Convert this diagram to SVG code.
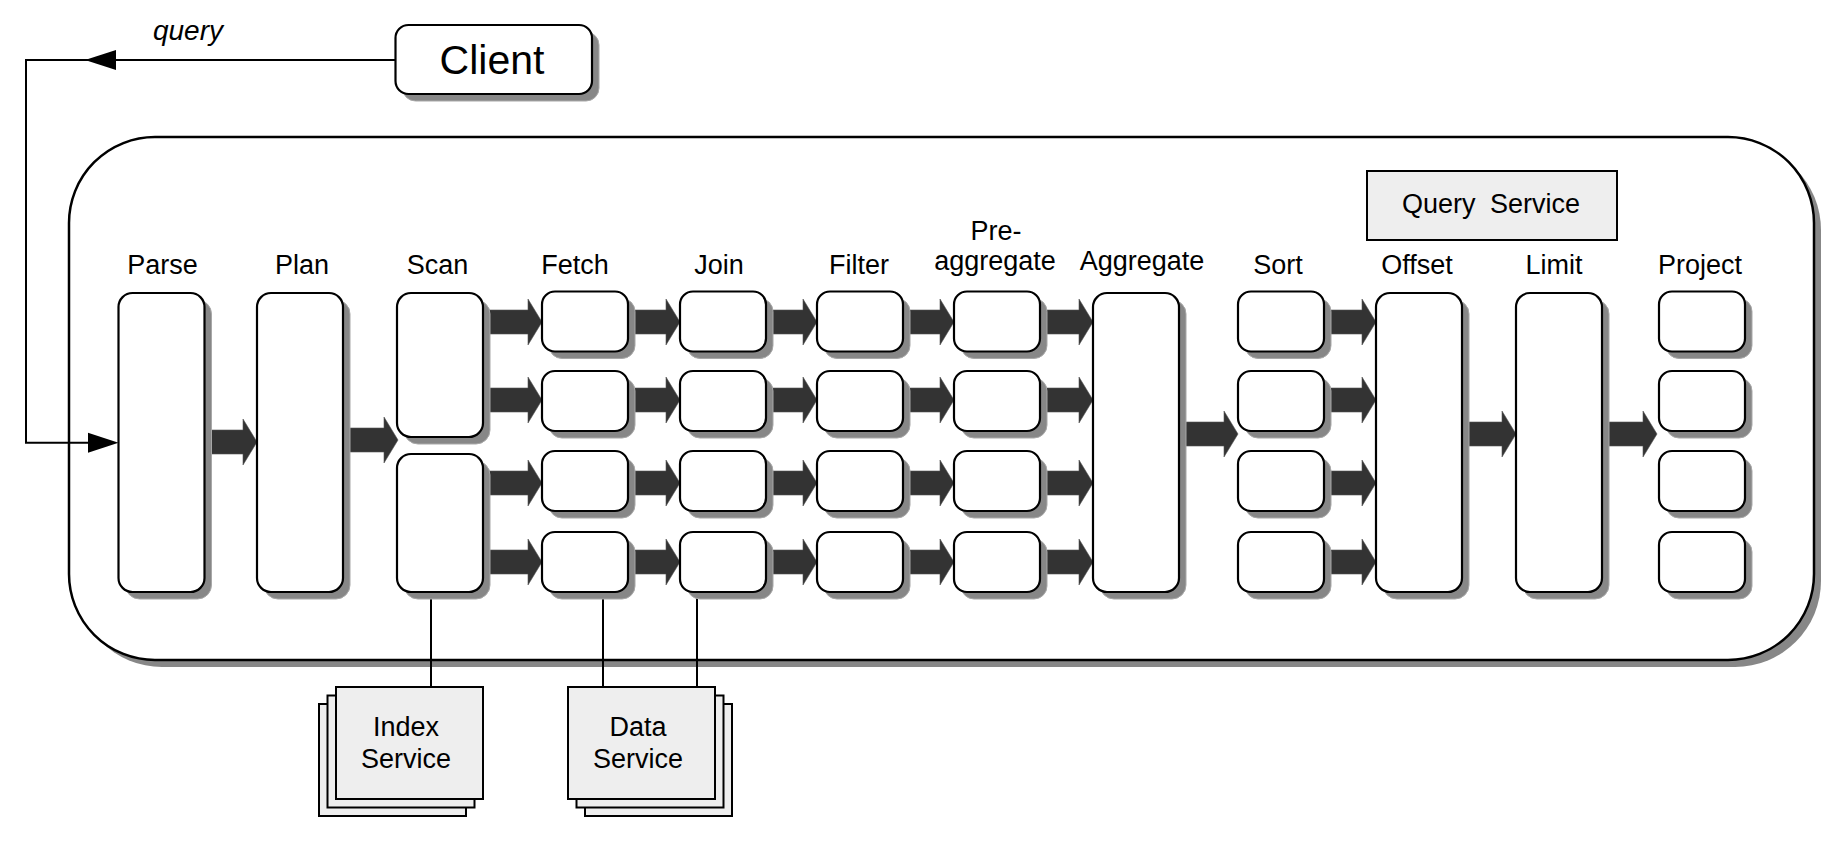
<svg xmlns="http://www.w3.org/2000/svg" width="1839" height="843" viewBox="0 0 1839 843">
<style>
.sh{fill:#878787;stroke:#a8a8a8;stroke-width:1}
.bx{fill:#fff;stroke:#000;stroke-width:2.2}
.svc{fill:#eeeeee;stroke:#000;stroke-width:2}
.ar{fill:#333333;stroke:#555;stroke-width:0.6}
.ln{fill:none;stroke:#000;stroke-width:2}
.lb{font-family:"Liberation Sans",Arial,sans-serif;font-size:27px;fill:#000;text-anchor:middle}
.big{font-size:41px}
.it{font-style:italic;font-size:28px}
</style>
<rect width="1839" height="843" fill="#fff"/>
<g id="query-service">
  <rect x="76" y="144" width="1745" height="523" rx="86" fill="#878787"/>
  <rect x="69" y="137" width="1745" height="523" rx="86" fill="#fff" stroke="#000" stroke-width="2.5"/>
  <rect x="1367" y="171" width="250" height="69" class="svc"/>
  <text x="1491" y="213" class="lb" word-spacing="7">Query Service</text>
</g>
<g id="connectors">
  <polyline class="ln" points="395,60 26,60 26,442.7 100,442.7"/>
  <polygon points="85,60 116,50 116,70" fill="#000"/>
  <polygon points="118.5,442.7 88,432.7 88,452.7" fill="#000"/>
  <text x="188" y="40" class="lb it">query</text>
  <polygon class="ar" points="204,430 243,430 243,419 257,442 243,465 243,454 204,454"/>
  <polygon class="ar" points="342,428 384,428 384,417 398,440 384,463 384,452 342,452"/>
  <polygon class="ar" points="1179,422 1224,422 1224,411 1238,434 1224,457 1224,446 1179,446"/>
  <polygon class="ar" points="1462,422 1502,422 1502,411 1516,434 1502,457 1502,446 1462,446"/>
  <polygon class="ar" points="1602,422 1643,422 1643,411 1657,434 1643,457 1643,446 1602,446"/>
  <!-- row 1 -->
  <polygon class="ar" points="482,310 528,310 528,299 542,322 528,345 528,334 482,334"/>
  <polygon class="ar" points="628,310 666,310 666,299 680,322 666,345 666,334 628,334"/>
  <polygon class="ar" points="766,310 803,310 803,299 817,322 803,345 803,334 766,334"/>
  <polygon class="ar" points="903,310 940,310 940,299 954,322 940,345 940,334 903,334"/>
  <polygon class="ar" points="1040,310 1079,310 1079,299 1093,322 1079,345 1079,334 1040,334"/>
  <polygon class="ar" points="1324,310 1362,310 1362,299 1376,322 1362,345 1362,334 1324,334"/>
  <!-- row 2 -->
  <polygon class="ar" points="482,388 528,388 528,377 542,400 528,423 528,412 482,412"/>
  <polygon class="ar" points="628,388 666,388 666,377 680,400 666,423 666,412 628,412"/>
  <polygon class="ar" points="766,388 803,388 803,377 817,400 803,423 803,412 766,412"/>
  <polygon class="ar" points="903,388 940,388 940,377 954,400 940,423 940,412 903,412"/>
  <polygon class="ar" points="1040,388 1079,388 1079,377 1093,400 1079,423 1079,412 1040,412"/>
  <polygon class="ar" points="1324,388 1362,388 1362,377 1376,400 1362,423 1362,412 1324,412"/>
  <!-- row 3 -->
  <polygon class="ar" points="482,471 528,471 528,460 542,483 528,506 528,495 482,495"/>
  <polygon class="ar" points="628,471 666,471 666,460 680,483 666,506 666,495 628,495"/>
  <polygon class="ar" points="766,471 803,471 803,460 817,483 803,506 803,495 766,495"/>
  <polygon class="ar" points="903,471 940,471 940,460 954,483 940,506 940,495 903,495"/>
  <polygon class="ar" points="1040,471 1079,471 1079,460 1093,483 1079,506 1079,495 1040,495"/>
  <polygon class="ar" points="1324,471 1362,471 1362,460 1376,483 1362,506 1362,495 1324,495"/>
  <!-- row 4 -->
  <polygon class="ar" points="482,550 528,550 528,539 542,562 528,585 528,574 482,574"/>
  <polygon class="ar" points="628,550 666,550 666,539 680,562 666,585 666,574 628,574"/>
  <polygon class="ar" points="766,550 803,550 803,539 817,562 803,585 803,574 766,574"/>
  <polygon class="ar" points="903,550 940,550 940,539 954,562 940,585 940,574 903,574"/>
  <polygon class="ar" points="1040,550 1079,550 1079,539 1093,562 1079,585 1079,574 1040,574"/>
  <polygon class="ar" points="1324,550 1362,550 1362,539 1376,562 1362,585 1362,574 1324,574"/>
  <line class="ln" x1="431" y1="592" x2="431" y2="687"/>
  <line class="ln" x1="603" y1="592" x2="603" y2="687"/>
  <line class="ln" x1="697" y1="592" x2="697" y2="687"/>
</g>
<g id="client">
  <rect x="402.5" y="32" width="196.5" height="69" rx="13" class="sh"/>
  <rect x="395.5" y="25" width="196.5" height="69" rx="13" class="bx"/>
  <text x="492" y="74" class="lb big">Client</text>
</g>
<g id="parse">
  <text x="162.5" y="274" class="lb">Parse</text>
  <rect x="125.5" y="300" width="86" height="299" rx="14" class="sh"/>
  <rect x="118.5" y="293" width="86" height="299" rx="14" class="bx"/>
</g>
<g id="plan">
  <text x="302" y="274" class="lb">Plan</text>
  <rect x="264" y="300" width="86" height="299" rx="14" class="sh"/>
  <rect x="257" y="293" width="86" height="299" rx="14" class="bx"/>
</g>
<g id="scan">
  <text x="437.5" y="274" class="lb">Scan</text>
  <rect x="404" y="300" width="86" height="144" rx="14" class="sh"/>
  <rect x="397" y="293" width="86" height="144" rx="14" class="bx"/>
  <rect x="404" y="461" width="86" height="138" rx="14" class="sh"/>
  <rect x="397" y="454" width="86" height="138" rx="14" class="bx"/>
</g>
<g id="fetch">
  <text x="575" y="274" class="lb">Fetch</text>
  <rect x="549" y="298.5" width="86" height="60" rx="13" class="sh"/>
  <rect x="542" y="291.5" width="86" height="60" rx="13" class="bx"/>
  <rect x="549" y="378" width="86" height="60" rx="13" class="sh"/>
  <rect x="542" y="371" width="86" height="60" rx="13" class="bx"/>
  <rect x="549" y="458" width="86" height="60" rx="13" class="sh"/>
  <rect x="542" y="451" width="86" height="60" rx="13" class="bx"/>
  <rect x="549" y="539" width="86" height="60" rx="13" class="sh"/>
  <rect x="542" y="532" width="86" height="60" rx="13" class="bx"/>
</g>
<g id="join">
  <text x="719" y="274" class="lb">Join</text>
  <rect x="687" y="298.5" width="86" height="60" rx="13" class="sh"/>
  <rect x="680" y="291.5" width="86" height="60" rx="13" class="bx"/>
  <rect x="687" y="378" width="86" height="60" rx="13" class="sh"/>
  <rect x="680" y="371" width="86" height="60" rx="13" class="bx"/>
  <rect x="687" y="458" width="86" height="60" rx="13" class="sh"/>
  <rect x="680" y="451" width="86" height="60" rx="13" class="bx"/>
  <rect x="687" y="539" width="86" height="60" rx="13" class="sh"/>
  <rect x="680" y="532" width="86" height="60" rx="13" class="bx"/>
</g>
<g id="filter">
  <text x="859" y="274" class="lb">Filter</text>
  <rect x="824" y="298.5" width="86" height="60" rx="13" class="sh"/>
  <rect x="817" y="291.5" width="86" height="60" rx="13" class="bx"/>
  <rect x="824" y="378" width="86" height="60" rx="13" class="sh"/>
  <rect x="817" y="371" width="86" height="60" rx="13" class="bx"/>
  <rect x="824" y="458" width="86" height="60" rx="13" class="sh"/>
  <rect x="817" y="451" width="86" height="60" rx="13" class="bx"/>
  <rect x="824" y="539" width="86" height="60" rx="13" class="sh"/>
  <rect x="817" y="532" width="86" height="60" rx="13" class="bx"/>
</g>
<g id="pre-aggregate">
  <text x="996" y="240" class="lb">Pre-</text>
  <text x="995" y="270" class="lb">aggregate</text>
  <rect x="961" y="298.5" width="86" height="60" rx="13" class="sh"/>
  <rect x="954" y="291.5" width="86" height="60" rx="13" class="bx"/>
  <rect x="961" y="378" width="86" height="60" rx="13" class="sh"/>
  <rect x="954" y="371" width="86" height="60" rx="13" class="bx"/>
  <rect x="961" y="458" width="86" height="60" rx="13" class="sh"/>
  <rect x="954" y="451" width="86" height="60" rx="13" class="bx"/>
  <rect x="961" y="539" width="86" height="60" rx="13" class="sh"/>
  <rect x="954" y="532" width="86" height="60" rx="13" class="bx"/>
</g>
<g id="aggregate">
  <text x="1142" y="270" class="lb">Aggregate</text>
  <rect x="1100" y="300" width="86" height="299" rx="14" class="sh"/>
  <rect x="1093" y="293" width="86" height="299" rx="14" class="bx"/>
</g>
<g id="sort">
  <text x="1278" y="274" class="lb">Sort</text>
  <rect x="1245" y="298.5" width="86" height="60" rx="13" class="sh"/>
  <rect x="1238" y="291.5" width="86" height="60" rx="13" class="bx"/>
  <rect x="1245" y="378" width="86" height="60" rx="13" class="sh"/>
  <rect x="1238" y="371" width="86" height="60" rx="13" class="bx"/>
  <rect x="1245" y="458" width="86" height="60" rx="13" class="sh"/>
  <rect x="1238" y="451" width="86" height="60" rx="13" class="bx"/>
  <rect x="1245" y="539" width="86" height="60" rx="13" class="sh"/>
  <rect x="1238" y="532" width="86" height="60" rx="13" class="bx"/>
</g>
<g id="offset">
  <text x="1417" y="274" class="lb">Offset</text>
  <rect x="1383" y="300" width="86" height="299" rx="14" class="sh"/>
  <rect x="1376" y="293" width="86" height="299" rx="14" class="bx"/>
</g>
<g id="limit">
  <text x="1554" y="274" class="lb">Limit</text>
  <rect x="1523" y="300" width="86" height="299" rx="14" class="sh"/>
  <rect x="1516" y="293" width="86" height="299" rx="14" class="bx"/>
</g>
<g id="project">
  <text x="1700" y="274" class="lb">Project</text>
  <rect x="1666" y="298.5" width="86" height="60" rx="13" class="sh"/>
  <rect x="1659" y="291.5" width="86" height="60" rx="13" class="bx"/>
  <rect x="1666" y="378" width="86" height="60" rx="13" class="sh"/>
  <rect x="1659" y="371" width="86" height="60" rx="13" class="bx"/>
  <rect x="1666" y="458" width="86" height="60" rx="13" class="sh"/>
  <rect x="1659" y="451" width="86" height="60" rx="13" class="bx"/>
  <rect x="1666" y="539" width="86" height="60" rx="13" class="sh"/>
  <rect x="1659" y="532" width="86" height="60" rx="13" class="bx"/>
</g>
<g id="index-service">
  <rect x="319" y="704" width="147" height="112" class="svc"/>
  <rect x="327.5" y="695.5" width="147" height="112" class="svc"/>
  <rect x="336" y="687" width="147" height="112" class="svc"/>
  <text x="406" y="736" class="lb">Index</text>
  <text x="406" y="768" class="lb">Service</text>
</g>
<g id="data-service">
  <rect x="585" y="704" width="147" height="112" class="svc"/>
  <rect x="576.5" y="695.5" width="147" height="112" class="svc"/>
  <rect x="568" y="687" width="147" height="112" class="svc"/>
  <text x="638" y="736" class="lb">Data</text>
  <text x="638" y="768" class="lb">Service</text>
</g>
</svg>
